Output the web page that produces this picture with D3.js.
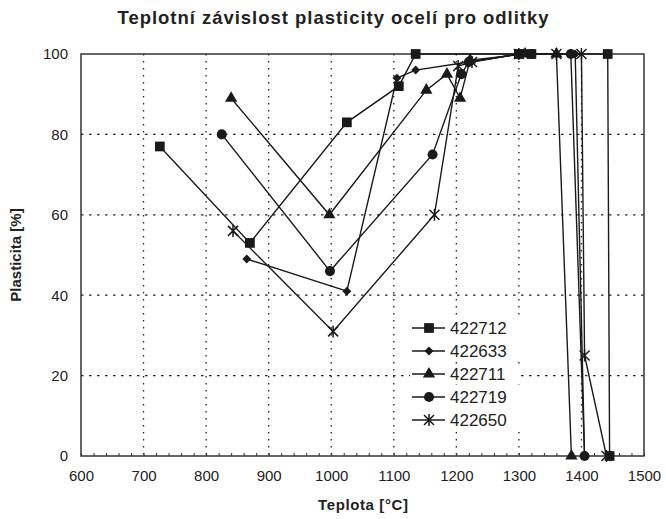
<!DOCTYPE html>
<html>
<head>
<meta charset="utf-8">
<script src="https://cdnjs.cloudflare.com/ajax/libs/d3/7.8.5/d3.min.js"></script>
<style>
  body { margin: 0; background: #fff; }
  svg { font-family: "Liberation Sans", Arial, sans-serif; }
</style>
</head>
<body>
<div class="vis"></div>
<script>
// chart values
const SERIES_NAMES = ['422712', '422633', '422711', '422719', '422650'];

const T_422712 = [726, 870, 1025, 1108, 1135, 1300, 1320, 1442, 1445];
const P_422712 = [77, 53, 83, 92, 100, 100, 100, 100, 0];

const T_422633 = [865, 1025, 1105, 1135, 1220, 1300, 1390, 1405];
const P_422633 = [49, 41, 94, 96, 98, 100, 100, 0];

const T_422711 = [840, 997, 1152, 1185, 1206, 1222, 1310, 1360, 1384];
const P_422711 = [89, 60, 91, 95, 89, 98.5, 100, 100, 0];

const T_422719 = [825, 998, 1162, 1208, 1220, 1300, 1320, 1383, 1405];
const P_422719 = [80, 46, 75, 95, 98, 100, 100, 100, 0];

const T_422650 = [843, 1003, 1165, 1203, 1225, 1300, 1360, 1400, 1405, 1440];
const P_422650 = [56, 31, 60, 97, 98, 100, 100, 100, 25, 0];

const X_TICKS = [600, 700, 800, 900, 1000, 1100, 1200, 1300, 1400, 1500];
const Y_TICKS = [0, 20, 40, 60, 80, 100];

const FRAME_WIDTH = 666;
const FRAME_HEIGHT = 519;
const PLOT = {left: 81, right: 644, top: 54, bottom: 456};

const FRAME = d3.select('.vis')
  .append('svg')
    .attr('width', FRAME_WIDTH)
    .attr('height', FRAME_HEIGHT);

const X_SCALE = d3.scaleLinear().domain([600, 1500]).range([PLOT.left, PLOT.right]);
const Y_SCALE = d3.scaleLinear().domain([0, 100]).range([PLOT.bottom, PLOT.top]);

// dotted grid
FRAME.append('g')
  .selectAll('line')
  .data(X_TICKS.slice(1, -1))
  .enter().append('line')
    .attr('x1', d => X_SCALE(d)).attr('x2', d => X_SCALE(d))
    .attr('y1', PLOT.top).attr('y2', PLOT.bottom)
    .attr('stroke', '#222').attr('stroke-width', 1.3)
    .attr('stroke-dasharray', '1.5,5.5');

FRAME.append('g')
  .selectAll('line')
  .data(Y_TICKS.slice(1, -1))
  .enter().append('line')
    .attr('x1', PLOT.left).attr('x2', PLOT.right)
    .attr('y1', d => Y_SCALE(d)).attr('y2', d => Y_SCALE(d))
    .attr('stroke', '#222').attr('stroke-width', 1.3)
    .attr('stroke-dasharray', '2.5,5.5');

// axes
const xAxis = FRAME.append('g')
  .attr('transform', 'translate(0,' + PLOT.bottom + ')')
  .call(d3.axisBottom(X_SCALE).tickValues(X_TICKS).tickFormat(d3.format('d'))
    .tickSize(0).tickPadding(14));
const yAxis = FRAME.append('g')
  .attr('transform', 'translate(' + PLOT.left + ',0)')
  .call(d3.axisLeft(Y_SCALE).tickValues(Y_TICKS).tickSize(0).tickPadding(13));
[xAxis, yAxis].forEach(a => {
  a.select('.domain').remove();
  a.selectAll('text').attr('font-size', '15px').attr('fill', '#222')
    .attr('font-family', '"Liberation Sans", Arial, sans-serif');
});

// small ticks along the bottom edge
FRAME.append('g')
  .attr('transform', 'translate(0,' + PLOT.bottom + ')')
  .call(d3.axisTop(X_SCALE).ticks(45).tickSize(3).tickFormat(''))
  .call(g => g.select('.domain').remove())
  .selectAll('line').attr('stroke', '#333');

// frame
FRAME.append('rect')
  .attr('x', PLOT.left).attr('y', PLOT.top)
  .attr('width', PLOT.right - PLOT.left).attr('height', PLOT.bottom - PLOT.top)
  .attr('fill', 'none').attr('stroke', '#333').attr('stroke-width', 1.5);

// series
const SERIES = [
  {name: SERIES_NAMES[0], t: T_422712, p: P_422712, sym: d3.symbolSquare, size: 95},
  {name: SERIES_NAMES[1], t: T_422633, p: P_422633, sym: 'diamond', size: 40},
  {name: SERIES_NAMES[2], t: T_422711, p: P_422711, sym: d3.symbolTriangle, size: 65},
  {name: SERIES_NAMES[3], t: T_422719, p: P_422719, sym: d3.symbolCircle, size: 80},
  {name: SERIES_NAMES[4], t: T_422650, p: P_422650, sym: 'star', size: 5}
];

const line = d3.line().x(d => X_SCALE(d[0])).y(d => Y_SCALE(d[1]));

function drawMarker(g, s) {
  if (s.sym === 'star') {
    const r = s.size;
    g.append('path')
      .attr('d', `M${-r},${-r}L${r},${r}M${-r},${r}L${r},${-r}M0,${-r - 1}L0,${r + 1}`)
      .attr('fill', 'none').attr('stroke', '#1a1a1a').attr('stroke-width', 1.5);
  } else if (s.sym === 'diamond') {
    g.append('path').attr('d', d3.symbol().type(d3.symbolSquare).size(s.size)())
      .attr('transform', 'rotate(45)')
      .attr('fill', '#1a1a1a');
  } else {
    g.append('path').attr('d', d3.symbol().type(s.sym).size(s.size)())
      .attr('fill', '#1a1a1a');
  }
}

SERIES.forEach(s => {
  const pts = s.t.map((t, i) => [t, s.p[i]]);
  FRAME.append('path')
    .datum(pts)
    .attr('d', line)
    .attr('fill', 'none')
    .attr('stroke', '#1a1a1a')
    .attr('stroke-width', 1.4);
  FRAME.append('g')
    .selectAll('g')
    .data(pts)
    .enter().append('g')
      .attr('transform', d => 'translate(' + X_SCALE(d[0]) + ',' + Y_SCALE(d[1]) + ')')
      .each(function () { drawMarker(d3.select(this), s); });
});

// legend
const legend = FRAME.append('g').attr('transform', 'translate(412,328)');
SERIES.forEach((s, i) => {
  const row = legend.append('g').attr('transform', 'translate(0,' + (i * 23) + ')');
  row.append('rect').attr('x', -2).attr('y', -10).attr('width', 110).attr('height', 20).attr('fill', '#fff');
  row.append('line').attr('x1', 0).attr('x2', 33).attr('y1', 0).attr('y2', 0)
    .attr('stroke', '#1a1a1a').attr('stroke-width', 1.4);
  drawMarker(row.append('g').attr('transform', 'translate(17,0)'), s);
  row.append('text').attr('x', 38).attr('y', 6)
    .attr('font-size', '17px').attr('fill', '#222').text(s.name);
});

// titles
FRAME.append('text')
  .attr('x', 333).attr('y', 24)
  .attr('text-anchor', 'middle')
  .attr('font-size', '18.5px').attr('font-weight', 'bold').attr('fill', '#222')
  .attr('textLength', 431).attr('lengthAdjust', 'spacing')
  .text('Teplotní závislost plasticity ocelí pro odlitky');

FRAME.append('text')
  .attr('x', 363).attr('y', 510)
  .attr('text-anchor', 'middle')
  .attr('font-size', '15px').attr('font-weight', 'bold').attr('fill', '#222')
  .attr('textLength', 90).attr('lengthAdjust', 'spacing')
  .text('Teplota [°C]');

FRAME.append('text')
  .attr('transform', 'translate(21,255) rotate(-90)')
  .attr('text-anchor', 'middle')
  .attr('font-size', '15px').attr('font-weight', 'bold').attr('fill', '#222')
  .text('Plasticita [%]');
</script>
</body>
</html>
